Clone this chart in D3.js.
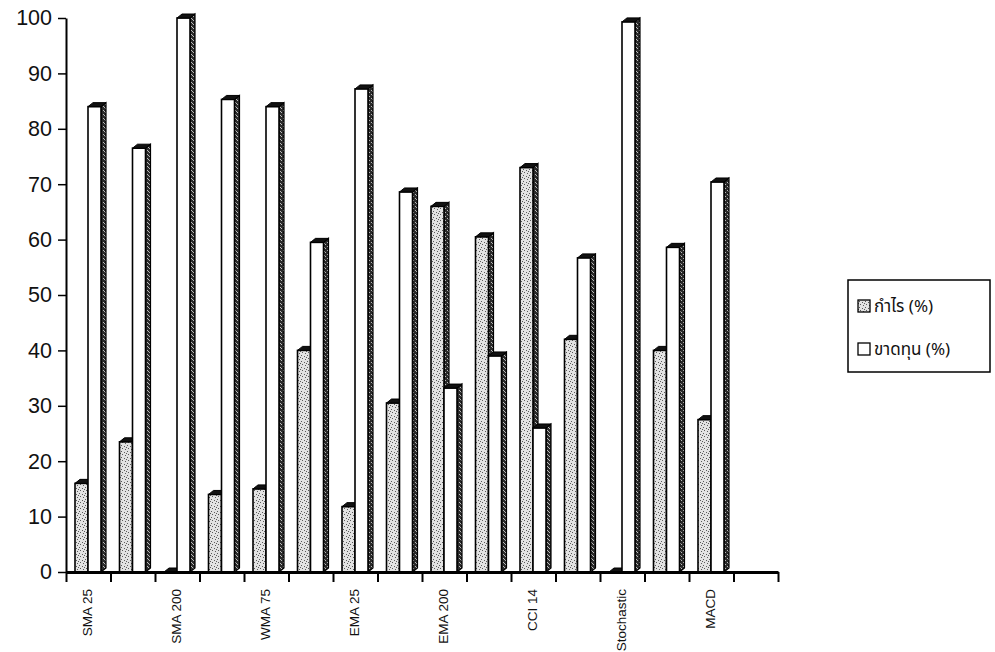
<!DOCTYPE html>
<html>
<head>
<meta charset="utf-8">
<script src="https://cdn.jsdelivr.net/npm/d3@7"></script>
<style>
  body { margin: 0; background: #fff; }
  svg { display: block; }
</style>
</head>
<body>
<div id="chart"></div>
<script>
// category labels (only every other one is printed on the axis)
var categories = ["SMA 25", "", "SMA 200", "", "WMA 75", "", "EMA 25", "", "EMA 200", "", "CCI 14", "", "Stochastic", "", "MACD", ""];
// กำไร (%)
var profit = [16, 23.5, 0, 14, 15, 40, 11.8, 30.5, 66, 60.5, 73, 42, 0, 40, 27.5, null];
// ขาดทุน (%)
var loss = [84, 76.5, 100, 85.3, 84, 59.5, 87.2, 68.6, 33.2, 39, 26, 56.7, 99.3, 58.6, 70.4, null];
var yTicks = [0, 10, 20, 30, 40, 50, 60, 70, 80, 90, 100];
var legendLabels = ["กำไร (%)", "ขาดทุน (%)"];

var width = 995, height = 652;
var margin = {left: 66, right: 223, top: 18, bottom: 80};
var depth = {x: 5, y: -4};

var svg = d3.select("#chart").append("svg")
    .attr("width", width)
    .attr("height", height);

// stipple fills
var defs = svg.append("defs");
var dots = defs.append("pattern")
    .attr("id", "stipple")
    .attr("patternUnits", "userSpaceOnUse")
    .attr("width", 6).attr("height", 6);
dots.append("rect").attr("width", 6).attr("height", 6).attr("fill", "#e2e2e2");
[[1, 1], [4, 2], [2, 4], [5, 5], [0, 3]].forEach(function(p) {
    dots.append("rect").attr("x", p[0]).attr("y", p[1]).attr("width", 1).attr("height", 1).attr("fill", "#5a5a5a");
});
var dark = defs.append("pattern")
    .attr("id", "stippleDark")
    .attr("patternUnits", "userSpaceOnUse")
    .attr("width", 4).attr("height", 4);
dark.append("rect").attr("width", 4).attr("height", 4).attr("fill", "#2a2a2a");
[[1, 0], [3, 2], [0, 3]].forEach(function(p) {
    dark.append("rect").attr("x", p[0]).attr("y", p[1]).attr("width", 1).attr("height", 1).attr("fill", "#bbbbbb");
});

var innerRight = width - margin.right + 6;
var yScale = d3.scaleLinear()
    .domain([0, 100])
    .range([height - margin.bottom, margin.top]);
var xBand = d3.scaleBand()
    .domain(d3.range(categories.length))
    .range([margin.left, innerRight]);
var xSub = d3.scaleBand()
    .domain(["profit", "loss"])
    .range([9, 35]);
var xTickScale = d3.scaleLinear()
    .domain([0, categories.length])
    .range([margin.left, innerRight]);

// bars
var series = [
    {key: "profit", values: profit, front: "url(#stipple)", side: "url(#stippleDark)"},
    {key: "loss", values: loss, front: "#fff", side: "url(#stippleDark)"}
];
var barData = [];
categories.forEach(function(c, i) {
    series.forEach(function(s) {
        if (s.values[i] !== null) {
            barData.push({i: i, s: s, v: s.values[i]});
        }
    });
});

var bars = svg.append("g").selectAll("g")
    .data(barData)
    .enter()
    .append("g");
var y0 = yScale(0);
bars.append("polygon")
    .attr("points", function(d) {
        var x = xBand(d.i) + xSub(d.s.key) + xSub.bandwidth(), t = yScale(d.v);
        return [[x, t], [x + depth.x, t + depth.y], [x + depth.x, y0 + depth.y], [x, y0]].join(" ");
    })
    .attr("fill", function(d) { return d.s.side; })
    .attr("stroke", "#000")
    .attr("stroke-width", 1.2);
bars.append("rect")
    .attr("x", function(d) { return xBand(d.i) + xSub(d.s.key); })
    .attr("y", function(d) { return yScale(d.v); })
    .attr("width", xSub.bandwidth())
    .attr("height", function(d) { return y0 - yScale(d.v); })
    .attr("fill", function(d) { return d.s.front; })
    .attr("stroke", "#000")
    .attr("stroke-width", 1.6);
bars.append("polygon")
    .attr("points", function(d) {
        var x = xBand(d.i) + xSub(d.s.key), w = xSub.bandwidth(), t = yScale(d.v);
        return [[x, t], [x + depth.x, t + depth.y], [x + w + depth.x, t + depth.y], [x + w, t]].join(" ");
    })
    .attr("fill", "#111")
    .attr("stroke", "#000")
    .attr("stroke-width", 1);

// y axis
var yAxis = svg.append("g")
    .attr("transform", "translate(" + margin.left + ",0)")
    .call(d3.axisLeft(yScale).tickValues(yTicks).tickSize(8).tickPadding(6).tickSizeOuter(0));
yAxis.select(".domain").attr("stroke-width", 2);
yAxis.selectAll(".tick line").attr("stroke-width", 1.5);
yAxis.selectAll("text")
    .attr("font-family", "Liberation Sans, Arial, sans-serif")
    .attr("font-size", 21.5)
    .attr("fill", "#111");

// x axis: ticks on the category boundaries
var xAxis = svg.append("g")
    .attr("transform", "translate(0," + y0 + ")")
    .call(d3.axisBottom(xTickScale).ticks(categories.length).tickSize(10).tickSizeOuter(0).tickFormat(""));
xAxis.select(".domain").attr("stroke-width", 3);
xAxis.selectAll(".tick line").attr("stroke-width", 2);

svg.append("g").selectAll("text")
    .data(categories)
    .enter()
    .append("text")
    .attr("transform", function(d, i) {
        return "translate(" + (xBand(i) + xBand.bandwidth() / 2 + 4) + "," + (y0 + 17) + ") rotate(-90)";
    })
    .attr("text-anchor", "end")
    .attr("font-family", "Liberation Sans Narrow, Liberation Sans, Arial, sans-serif")
    .attr("font-size", 13.5)
    .attr("fill", "#111")
    .text(function(d) { return d; });

// legend
var legend = svg.append("g").attr("transform", "translate(848,280)");
legend.append("rect")
    .attr("width", 142).attr("height", 92)
    .attr("fill", "#fff")
    .attr("stroke", "#000")
    .attr("stroke-width", 1.5);
var fills = ["url(#stipple)", "#fff"];
legendLabels.forEach(function(label, i) {
    var row = legend.append("g").attr("transform", "translate(10," + (20 + i * 43) + ")");
    row.append("rect")
        .attr("width", 12).attr("height", 12)
        .attr("fill", fills[i])
        .attr("stroke", "#000")
        .attr("stroke-width", 1.3);
    row.append("text")
        .attr("x", 16).attr("y", 12)
        .attr("font-family", "Noto Sans Thai, Loma, Garuda, Noto Sans, DejaVu Sans, sans-serif")
        .attr("font-size", 17)
        .attr("fill", "#111")
        .text(label);
});
</script>
</body>
</html>
